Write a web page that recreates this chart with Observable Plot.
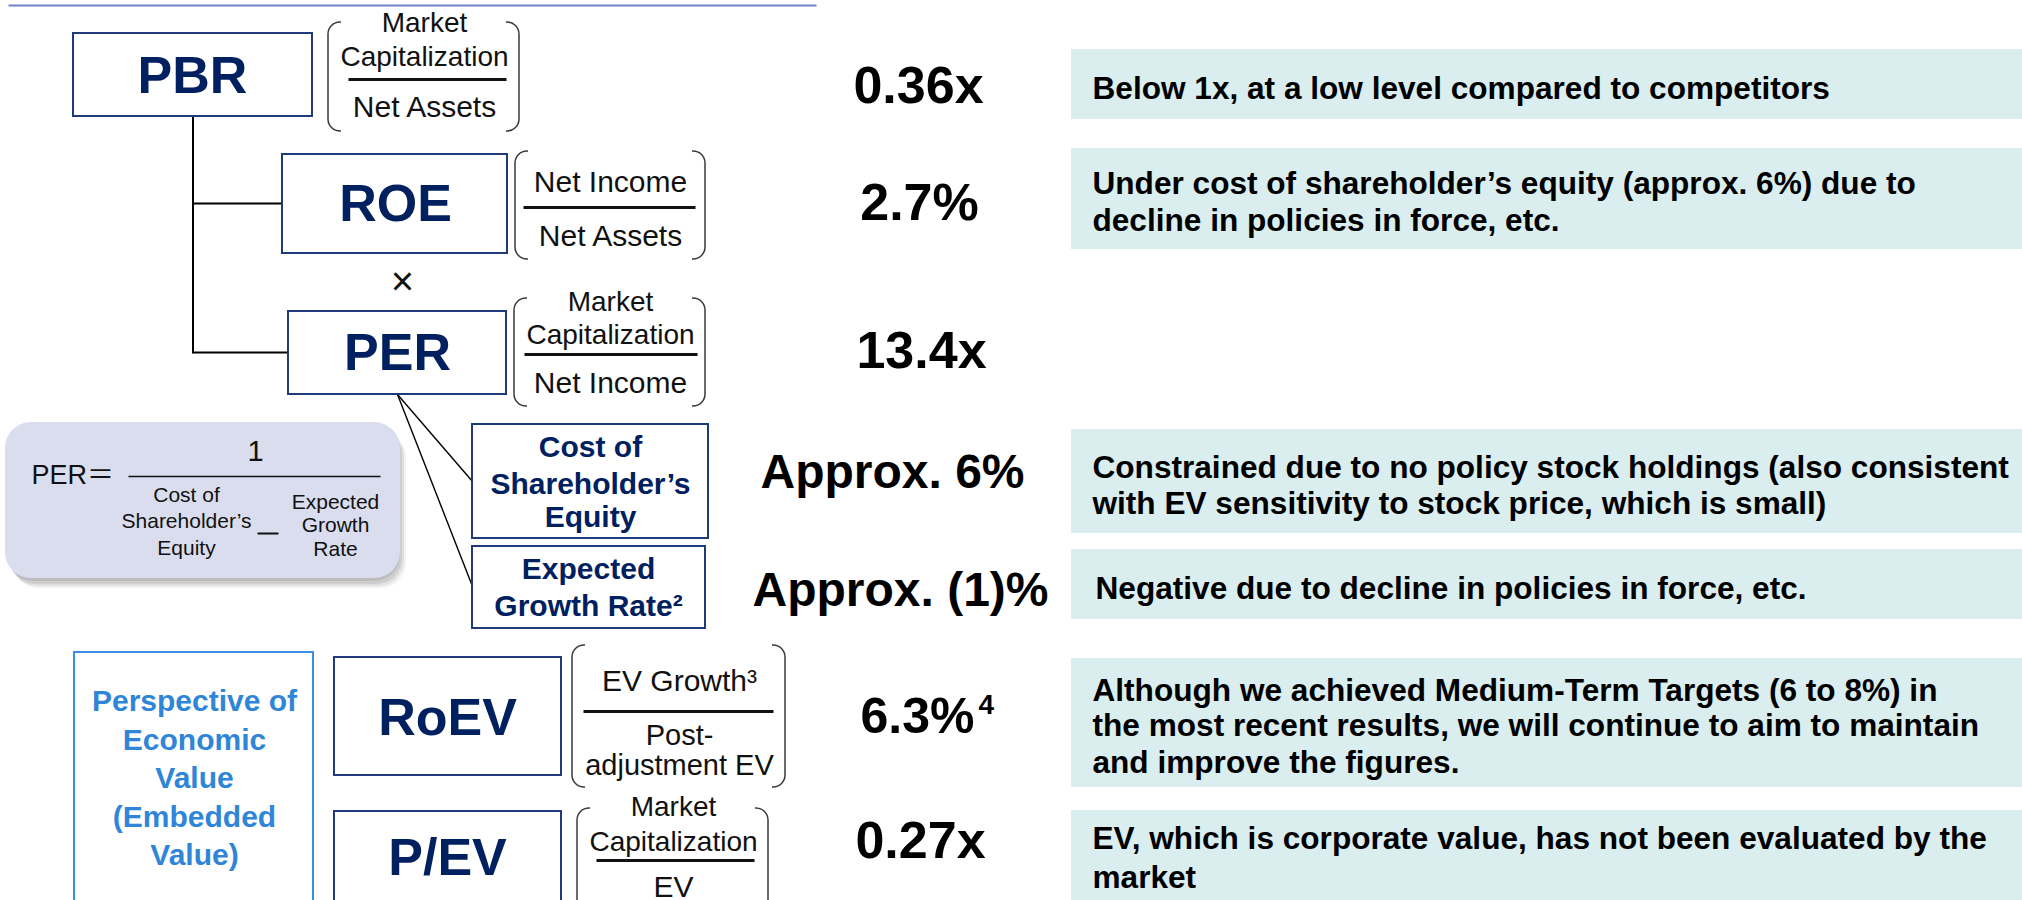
<!DOCTYPE html>
<html>
<head>
<meta charset="utf-8">
<script src="https://cdn.jsdelivr.net/npm/d3@7"></script>
<script src="https://cdn.jsdelivr.net/npm/@observablehq/plot@0.6"></script>
<style>
html, body { margin: 0; padding: 0; background: #ffffff; overflow: hidden; }
#chart svg { display: block; }
</style>
</head>
<body>
<div id="chart"></div>
<script>
// ---------------- DATA (content only) ----------------
const metricNames = ["PBR", "ROE", "PER", "RoEV", "P/EV"];
const fractionNumerators = [["Market", "Capitalization"], ["Net Income"], ["Market", "Capitalization"], ["EV Growth³"], ["Market", "Capitalization"]];
const fractionDenominators = [["Net Assets"], ["Net Assets"], ["Net Income"], ["Post-", "adjustment EV"], ["EV"]];
const componentNames = [["Cost of", "Shareholder’s", "Equity"], ["Expected", "Growth Rate²"]];
const multiplySign = "×";
const formulaLead = "PER＝";
const formulaNumerator = "1";
const formulaTerms = [["Cost of", "Shareholder’s", "Equity"], ["Expected", "Growth", "Rate"]];
const perspectiveLines = ["Perspective of", "Economic", "Value", "(Embedded", "Value)"];
const valueLabels = ["0.36x", "2.7%", "13.4x", "Approx. 6%", "Approx. (1)%", "6.3%", "0.27x"];
const valueNotes = ["", "", "", "", "", "4", ""];
const commentLines = [
  ["Below 1x, at a low level compared to competitors"],
  ["Under cost of shareholder’s equity (approx. 6%) due to", "decline in policies in force, etc."],
  [],
  ["Constrained due to no policy stock holdings (also consistent", "with EV sensitivity to stock price, which is small)"],
  ["Negative due to decline in policies in force, etc."],
  ["Although we achieved Medium-Term Targets (6 to 8%) in", "the most recent results, we will continue to aim to maintain", "and improve the figures."],
  ["EV, which is corporate value, has not been evaluated by the", "market"]
];

// ---------------- LAYOUT (positions / sizes) ----------------
const FONT = "'Liberation Sans', Arial, 'Noto Sans CJK JP', sans-serif";
const NAVY = "#002060";
const BORDER = "#1f3a78";
const W = 2022, H = 900;

const metricBoxLayout = [
  {x1: 73, x2: 312, y1: 33, y2: 116, cx: 192, cy: 76},
  {x1: 282, x2: 507, y1: 154, y2: 253, cx: 395, cy: 204},
  {x1: 288, x2: 506, y1: 311, y2: 394, cx: 397, cy: 353},
  {x1: 334, x2: 561, y1: 657, y2: 775, cx: 447, cy: 718},
  {x1: 334, x2: 561, y1: 811, y2: 918, cx: 447, cy: 858}
];
const bracketLayout = [
  {x1: 328, x2: 519, y1: 22, y2: 131, lx1: 348, lx2: 506, ly: 79, cx: 424, num: [23, 57], den: [107]},
  {x1: 515, x2: 705, y1: 151, y2: 259, lx1: 523, lx2: 695, ly: 207, cx: 610, num: [182], den: [236]},
  {x1: 514, x2: 705, y1: 298, y2: 406, lx1: 524, lx2: 697, ly: 354, cx: 610, num: [302, 335], den: [383]},
  {x1: 572, x2: 785, y1: 645, y2: 787, lx1: 583, lx2: 773, ly: 711, cx: 679, num: [681], den: [735, 765]},
  {x1: 577, x2: 768, y1: 808, y2: 918, lx1: 596, lx2: 754, ly: 860, cx: 673, num: [807, 842], den: [887]}
];
const componentLayout = [
  {x1: 472, x2: 708, y1: 424, y2: 538, cx: 590, rows: [447, 484, 517]},
  {x1: 472, x2: 705, y1: 546, y2: 628, cx: 588, rows: [569, 606]}
];
const treeLayout = [
  {x1: 192.5, y1: 116, x2: 192.5, y2: 353, w: 2},
  {x1: 192.5, y1: 203, x2: 282, y2: 203, w: 2},
  {x1: 192.5, y1: 352, x2: 288, y2: 352, w: 2},
  {x1: 397, y1: 394, x2: 472, y2: 481, w: 1.4},
  {x1: 397, y1: 394, x2: 472, y2: 586, w: 1.4}
];
const multiplyLayout = {x: 402, y: 282};
const topRuleLayout = {x1: 8, x2: 816, y: 5};
const formulaBoxLayout = {x1: 5, x2: 400, y1: 422, y2: 578, rx: 26};
const formulaTextLayout = {
  lead: {x: 31, y: 475}, num: {x: 255, y: 451},
  bar: {x1: 128, x2: 380, y: 476},
  minus: {x1: 257, x2: 278, y: 533},
  cols: [{cx: 186, rows: [495, 521, 548]}, {cx: 335, rows: [502, 525, 549]}]
};
const perspectiveLayout = {x1: 74, x2: 313, y1: 652, y2: 918, cx: 194, rows: [701, 740, 778, 817, 855]};
const valueLayout = [
  {x: 918, y: 86, size: 52},
  {x: 919, y: 203, size: 52},
  {x: 921, y: 351, size: 52},
  {x: 892, y: 472, size: 48},
  {x: 900, y: 590, size: 48},
  {x: 974, y: 716, size: 50, end: true, nx: 978, ny: 705},
  {x: 920, y: 841, size: 52}
];
const commentLayout = [
  {y1: 49, y2: 119, tx: 1092, rows: [88]},
  {y1: 148, y2: 249, tx: 1092, rows: [183, 220]},
  null,
  {y1: 429, y2: 533, tx: 1092, rows: [467, 503]},
  {y1: 549, y2: 619, tx: 1095, rows: [588]},
  {y1: 658, y2: 787, tx: 1092, rows: [690, 725, 762]},
  {y1: 810, y2: 918, tx: 1092, rows: [838, 877]}
];
const commentX1 = 1071, commentX2 = 2030;

// ---------------- BUILD MARK TABLES ----------------
const metricBoxes = metricNames.map((name, i) => ({name, ...metricBoxLayout[i]}));

const bracketCovers = [];
const fractionBars = [];
const fractionTexts = [];
bracketLayout.forEach((b, i) => {
  bracketCovers.push({x1: b.x1 + 13, x2: b.x2 - 13, y1: b.y1 - 3, y2: b.y1 + 3});
  bracketCovers.push({x1: b.x1 + 13, x2: b.x2 - 13, y1: b.y2 - 3, y2: b.y2 + 3});
  fractionBars.push({x1: b.lx1, x2: b.lx2, y1: b.ly, y2: b.ly});
  fractionNumerators[i].forEach((t, j) => fractionTexts.push({text: t, x: b.cx, y: b.num[j]}));
  fractionDenominators[i].forEach((t, j) => fractionTexts.push({text: t, x: b.cx, y: b.den[j]}));
});
const fracSize = t => (t === "Market" || t === "Capitalization") ? 28 : (t === "adjustment EV" || t === "Post-" ? 29 : 30);

const componentBoxes = componentLayout.map((c, i) => ({...c, lines: componentNames[i]}));
const componentTexts = componentBoxes.flatMap(c => c.lines.map((t, j) => ({text: t, x: c.cx, y: c.rows[j]})));

const formulaTexts = formulaTerms.flatMap((col, i) =>
  col.map((t, j) => ({text: t, x: formulaTextLayout.cols[i].cx, y: formulaTextLayout.cols[i].rows[j]})));

const perspectiveTexts = perspectiveLines.map((t, j) => ({text: t, x: perspectiveLayout.cx, y: perspectiveLayout.rows[j]}));

const valueTexts = valueLabels.map((t, i) => ({text: t, ...valueLayout[i]}));
const valueCentered = valueTexts.filter(d => !d.end);
const valueEnded = valueTexts.filter(d => d.end);
const noteTexts = valueNotes.map((t, i) => ({text: t, x: valueLayout[i].nx, y: valueLayout[i].ny})).filter(d => d.text);

const commentBoxes = commentLayout.map((c, i) => c && commentLines[i].length ? {...c, x1: commentX1, x2: commentX2} : null).filter(Boolean);
const commentTexts = commentLayout.flatMap((c, i) => c ? commentLines[i].map((t, j) => ({text: t, x: c.tx, y: c.rows[j]})) : []);

const shadowSteps = [
  {dx: 8, dy: 10, o: 0.05}, {dx: 6, dy: 8, o: 0.07}, {dx: 4, dy: 6, o: 0.08}, {dx: 2, dy: 3, o: 0.08}
];
const fb = formulaBoxLayout;
const formulaShadows = shadowSteps.map(s => ({x1: fb.x1 + s.dx, x2: fb.x2 + s.dx - 2, y1: fb.y1 + s.dy, y2: fb.y2 + s.dy, o: s.o}));

// ---------------- PLOT ----------------
const textBase = {x: "x", y: "y", text: "text", fontFamily: FONT, lineAnchor: "middle"};

const chart = Plot.plot({
  width: W, height: H,
  margin: 0, marginTop: 0, marginRight: 0, marginBottom: 0, marginLeft: 0,
  x: {domain: [0, W], range: [0, W], axis: null},
  y: {domain: [0, H], range: [0, H], axis: null},
  color: {type: "identity"},
  opacity: {type: "identity"},
  style: {fontFamily: FONT, background: "#ffffff", overflow: "hidden"},
  marks: [
    // top rule
    Plot.link([topRuleLayout], {x1: "x1", x2: "x2", y1: "y", y2: "y", stroke: "#6f84c6", strokeWidth: 2}),
    // comment panels
    Plot.rect(commentBoxes, {x1: "x1", x2: "x2", y1: "y1", y2: "y2", fill: "#daedef"}),
    // formula box with soft shadow
    Plot.rect(formulaShadows, {x1: "x1", x2: "x2", y1: "y1", y2: "y2", rx: fb.rx, fill: "#000000", fillOpacity: "o"}),
    Plot.rect([fb], {x1: "x1", x2: "x2", y1: "y1", y2: "y2", rx: fb.rx, fill: "#d9ddee"}),
    // tree connectors
    Plot.link(treeLayout, {x1: "x1", y1: "y1", x2: "x2", y2: "y2", stroke: "#000000", strokeWidth: "w"}),
    // metric boxes
    Plot.rect(metricBoxes, {x1: "x1", x2: "x2", y1: "y1", y2: "y2", fill: "#ffffff", stroke: BORDER, strokeWidth: 2}),
    Plot.rect(componentBoxes, {x1: "x1", x2: "x2", y1: "y1", y2: "y2", fill: "#ffffff", stroke: BORDER, strokeWidth: 2}),
    Plot.rect([perspectiveLayout], {x1: "x1", x2: "x2", y1: "y1", y2: "y2", fill: "none", stroke: "#3a8fe2", strokeWidth: 2}),
    // brackets around fractions
    Plot.rect(bracketLayout, {x1: "x1", x2: "x2", y1: "y1", y2: "y2", rx: 12, fill: "none", stroke: "#3a3a3a", strokeWidth: 1.5}),
    Plot.rect(bracketCovers, {x1: "x1", x2: "x2", y1: "y1", y2: "y2", fill: "#ffffff"}),
    Plot.link(fractionBars, {x1: "x1", x2: "x2", y1: "y1", y2: "y2", stroke: "#111111", strokeWidth: 3}),
    // formula bar and minus
    Plot.link([formulaTextLayout.bar], {x1: "x1", x2: "x2", y1: "y", y2: "y", stroke: "#111111", strokeWidth: 1.6}),
    Plot.link([formulaTextLayout.minus], {x1: "x1", x2: "x2", y1: "y", y2: "y", stroke: "#111111", strokeWidth: 2}),
    // texts
    Plot.text(metricBoxes, {x: "cx", y: "cy", text: "name", fontFamily: FONT, fontWeight: "bold", fontSize: 52, fill: NAVY, lineAnchor: "middle"}),
    Plot.text(fractionTexts, {...textBase, fontSize: d => fracSize(d.text), fill: "#111111"}),
    Plot.text([{text: multiplySign, ...multiplyLayout}], {...textBase, fontSize: 40, fill: "#111111"}),
    Plot.text(componentTexts, {...textBase, fontWeight: "bold", fontSize: 30, fill: NAVY}),
    Plot.text([{text: formulaLead, ...formulaTextLayout.lead}], {...textBase, textAnchor: "start", fontSize: 27, fill: "#111111"}),
    Plot.text([{text: formulaNumerator, ...formulaTextLayout.num}], {...textBase, fontSize: 29, fill: "#111111"}),
    Plot.text(formulaTexts, {...textBase, fontSize: 21, fill: "#111111"}),
    Plot.text(perspectiveTexts, {...textBase, fontWeight: "bold", fontSize: 30, fill: "#2f86d9"}),
    Plot.text(valueCentered, {...textBase, fontWeight: "bold", fontSize: "size", textAnchor: "middle", fill: "#000000"}),
    Plot.text(valueEnded, {...textBase, fontWeight: "bold", fontSize: "size", textAnchor: "end", fill: "#000000"}),
    Plot.text(noteTexts, {...textBase, fontWeight: "bold", fontSize: 28, textAnchor: "start", fill: "#000000"}),
    Plot.text(commentTexts, {...textBase, fontWeight: "bold", fontSize: 31.6, textAnchor: "start", fill: "#000000"})
  ]
});
document.getElementById("chart").appendChild(chart);
</script>
</body>
</html>
